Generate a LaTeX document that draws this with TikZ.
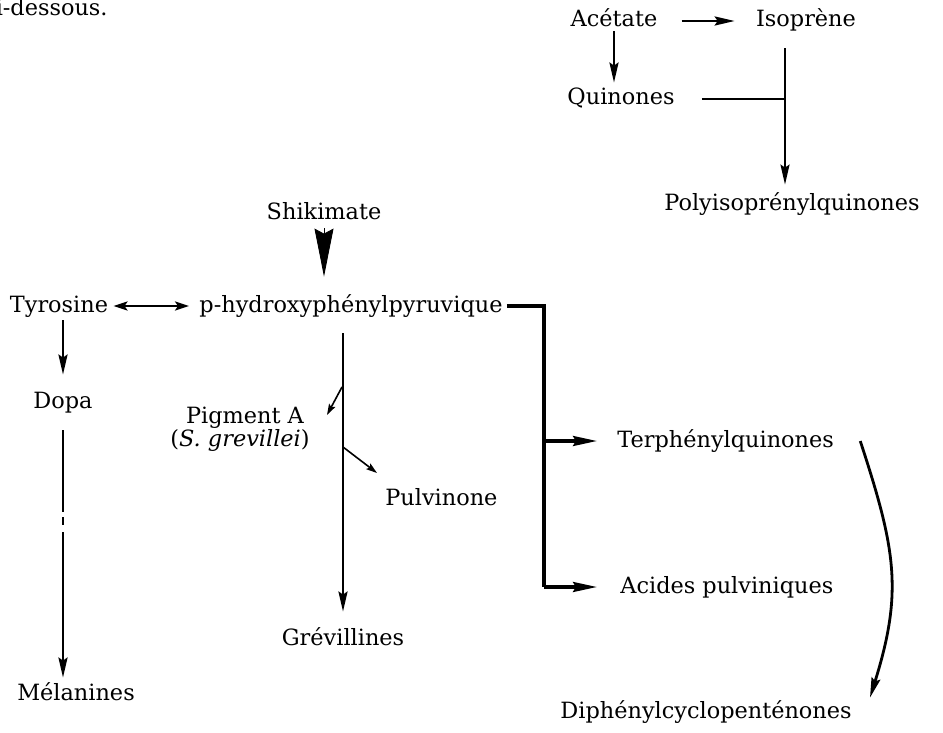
\documentclass[tikz,border=0pt]{standalone}
\usepackage{fontspec}
\setmainfont{DejaVu Serif}
\usepackage{tikz}
\usetikzlibrary{arrows.meta}
\usetikzlibrary{positioning}

\begin{document}
\begin{tikzpicture}[x=0.5pt,y=-0.5pt,
  every node/.style={anchor=base,inner sep=0pt,text height=6pt,text depth=0pt,font=\fontsize{11.2}{13}\selectfont},
  arr/.style={line width=1.3pt,-{Stealth[length=10pt,width=4.5pt,inset=1.5pt]}},
  darr/.style={line width=1.3pt,{Stealth[length=7pt,width=4.5pt,inset=1.5pt]}-{Stealth[length=7pt,width=4.5pt,inset=1.5pt]}},
  barr/.style={line width=1.6pt,-{Stealth[length=12pt,width=5pt,inset=1.5pt]}},
  tip/.style={line width=0.8pt,-{Stealth[length=5.5pt,width=3.5pt,inset=1pt]}},
  wedge/.style={line width=0.4pt,-{Stealth[length=24pt,width=9.5pt,inset=2.5pt]}}]
  \useasboundingbox (0,0) rectangle (943,733);

  \node[anchor=base east] (cut) at (108,16) {ci-dessous.};

  \node (ace) at (614,27) {Acétate};
  \node (iso) at (806,27) {Isoprène};
  \node (qui) at (621,105) {Quinones};
  \node (poly) at (792,211) {Polyisoprénylquinones};
  \node (shik) at (324,220) {Shikimate};
  \node (tyro) at (59,312) {Tyrosine};
  \node (phpp) at (351,312) {p-hydroxyphénylpyruvique};
  \node (dopa) at (63,408) {Dopa};
  \node (pig) at (245,423) {Pigment A};
  \node (sgr) at (240,446) {(\textit{S. grevillei})};
  \node[anchor=base west] (pul) at (385,505) {Pulvinone};
  \node[anchor=base west] (terp) at (617,447) {Terphénylquinones};
  \node[anchor=base west] (acp) at (620,593) {Acides pulviniques};
  \node (grev) at (343,645) {Grévillines};
  \node (mel) at (76,700) {Mélanines};
  \node[anchor=base east] (diph) at (852,718) {Diphénylcyclopenténones};

  \coordinate (jq) at (785,99);
  \coordinate (cnr) at (544,306);
  \coordinate (jpa) at (342,387);
  \coordinate (tpa) at (327,415);
  \coordinate (jpu) at (343,447);
  \coordinate (tpu) at (377,473);

  \draw[arr,shorten <=12pt,shorten >=10.5pt] (ace) -- (iso);
  \draw[arr,shorten <=2pt,shorten >=5pt] (ace.south) -- (ace.south |- qui.north);
  \draw[line width=1pt,shorten <=13.5pt] (qui) -- (jq);
  \draw[arr,line width=1pt,shorten <=10.5pt,shorten >=7pt] (iso.south -| jq) -- (poly.north -| jq);

  \draw[wedge,shorten <=4pt,shorten >=11.5pt] (shik.south) -- (shik.south |- phpp.north);
  \draw[darr,shorten <=2.5pt,shorten >=5pt] (tyro) -- (phpp);
  \draw[arr,shorten <=4pt,shorten >=10.5pt] (tyro.south -| dopa) -- (dopa.north);
  \draw[arr,dash pattern=on 41pt off 2.5pt on 4pt off 3.5pt on 400pt,shorten <=11pt,shorten >=5pt] (dopa.south) -- (dopa.south |- mel.north);

  \draw[arr,shorten <=10.5pt,shorten >=10.5pt] (phpp.south -| grev) -- (grev.north);
  \draw[tip] (jpa) -- (tpa);
  \draw[tip] (jpu) -- (tpu);

  \draw[line width=1.6pt,shorten <=2pt] (phpp) -- (cnr) -- (cnr |- acp);
  \draw[barr,shorten >=10pt] (cnr |- terp) -- (terp);
  \draw[barr,shorten >=11.5pt] (cnr |- acp) -- (acp);

  \draw[arr,line width=1.4pt] ([xshift=13pt]terp.east) .. controls (896,550) and (903,592) .. ([shift={(9pt,4pt)}]diph.north east);
\end{tikzpicture}
\end{document}
